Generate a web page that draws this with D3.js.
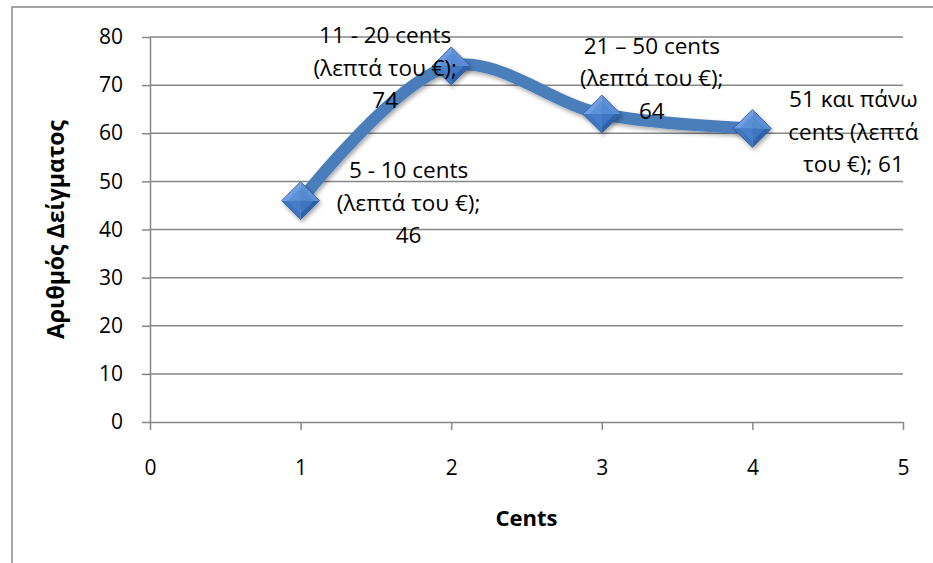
<!DOCTYPE html>
<html>
<head>
<meta charset="utf-8">
<script src="https://cdn.jsdelivr.net/npm/d3@7/dist/d3.min.js"></script>
<style>
  html, body { margin: 0; padding: 0; background: #fff; }
  svg { display: block; font-family: "Open Sans", sans-serif; }
</style>
</head>
<body>
<svg id="chart" width="933" height="563"></svg>
<script>
// Sample size per coin range
const xValues = [1, 2, 3, 4];
const yValues = [46, 74, 64, 61];
const categoryLines = [
  ["5 - 10 cents", "(λεπτά του €);"],
  ["11 - 20 cents", "(λεπτά του €);"],
  ["21 – 50 cents", "(λεπτά του €);"],
  ["51 και πάνω", "cents (λεπτά", "του €);"]
];
const xTicks = [0, 1, 2, 3, 4, 5];
const yTicks = [0, 10, 20, 30, 40, 50, 60, 70, 80];
const xTitle = "Cents";
const yTitle = "Αριθμός Δείγματος";

// label placement relative to each marker (centre x, centre y of block)
const labelOffsets = [[108, 2], [-66, 2], [50, -36], [101, 3]];
// whether the value sits on the last text line or on its own line
const valueInline = [false, false, false, true];

const svg = d3.select("#chart");
const W = 933, H = 563;
const plot = { left: 150, right: 903, top: 37, bottom: 422 };

const x = d3.scaleLinear().domain([0, 5]).range([plot.left, plot.right]);
const y = d3.scaleLinear().domain([0, 80]).range([plot.bottom, plot.top]);

// outer frame
svg.append("rect")
  .attr("x", 12).attr("y", 7).attr("width", W + 10).attr("height", H + 10)
  .attr("fill", "#fff").attr("stroke", "#888").attr("stroke-width", 1.5);

const defs = svg.append("defs");
const sh = defs.append("filter").attr("id", "shadow")
  .attr("x", "-20%").attr("y", "-20%").attr("width", "140%").attr("height", "140%");
sh.append("feDropShadow").attr("dx", 1.5).attr("dy", 2.5).attr("stdDeviation", 2)
  .attr("flood-color", "#000").attr("flood-opacity", 0.35);

// horizontal gridlines
svg.append("g")
  .selectAll("line")
  .data(yTicks.filter(d => d > 0))
  .join("line")
  .attr("x1", plot.left).attr("x2", plot.right)
  .attr("y1", d => y(d)).attr("y2", d => y(d))
  .attr("stroke", "#878787").attr("stroke-width", 1.5);

// y axis
const yAxis = svg.append("g")
  .attr("transform", `translate(${plot.left},0)`)
  .call(d3.axisLeft(y).tickValues(yTicks).tickFormat(d3.format("d"))
    .tickSize(8).tickPadding(19).tickSizeOuter(0));
// x axis
const xAxis = svg.append("g")
  .attr("transform", `translate(0,${plot.bottom})`)
  .call(d3.axisBottom(x).tickValues(xTicks).tickFormat(d3.format("d"))
    .tickSize(8).tickPadding(30).tickSizeOuter(0));

[yAxis, xAxis].forEach(g => {
  g.select(".domain").attr("stroke", "#878787").attr("stroke-width", 1.5);
  g.selectAll(".tick line").attr("stroke", "#878787").attr("stroke-width", 1.5);
  g.selectAll(".tick text")
    .attr("fill", "#000").style("font-size", "21px").style("font-family", "'Open Sans', sans-serif");
});

// axis titles
svg.append("text")
  .attr("x", (plot.left + plot.right) / 2).attr("y", 526)
  .attr("text-anchor", "middle")
  .style("font-size", "22px").style("font-weight", "bold")
  .text(xTitle);
svg.append("text")
  .attr("transform", `translate(64,${(plot.top + plot.bottom) / 2}) rotate(-90)`)
  .attr("text-anchor", "middle")
  .style("font-size", "23px").style("font-weight", "bold")
  .text(yTitle);

const pts = xValues.map((v, i) => [v, yValues[i]]);

// smoothed series line
const line = d3.line()
  .x(d => x(d[0])).y(d => y(d[1]))
  .curve(d3.curveCatmullRom.alpha(0.5));
svg.append("path")
  .datum(pts)
  .attr("d", line)
  .attr("fill", "none")
  .attr("stroke", "#4a7ebb")
  .attr("stroke-width", 12)
  .attr("stroke-linecap", "round")
  .attr("filter", "url(#shadow)");

// bevelled diamond markers
const r = 19;
const markers = svg.append("g").selectAll("g")
  .data(pts).join("g")
  .attr("transform", d => `translate(${x(d[0])},${y(d[1])})`)
  .attr("filter", "url(#shadow)");
const facets = [
  { p: [[0, -r], [-r, 0], [0, 0]], c: "#6f9ee0" },
  { p: [[0, -r], [r, 0], [0, 0]], c: "#5b8fd6" },
  { p: [[-r, 0], [0, r], [0, 0]], c: "#3f74c0" },
  { p: [[r, 0], [0, r], [0, 0]], c: "#2f62ab" }
];
facets.forEach(f => {
  markers.append("path")
    .attr("d", "M" + f.p.map(q => q.join(",")).join("L") + "Z")
    .attr("fill", f.c);
});
markers.append("path")
  .attr("d", `M0,${-r + 6}L${r - 6},0L0,${r - 6}L${-r + 6},0Z`)
  .attr("fill", "#4f86d0").attr("opacity", 0.55);
markers.append("path")
  .attr("d", `M0,${-r}L${r},0L0,${r}L${-r},0Z`)
  .attr("fill", "none").attr("stroke", "#2e5d9f").attr("stroke-width", 0.8);

// data labels
const lh = 32.5;
pts.forEach((d, i) => {
  const lines = categoryLines[i].slice();
  if (valueInline[i]) lines[lines.length - 1] += " " + yValues[i];
  else lines.push(String(yValues[i]));
  const cx = x(d[0]) + labelOffsets[i][0];
  const cy = y(d[1]) + labelOffsets[i][1];
  const t = svg.append("text")
    .attr("text-anchor", "middle")
    .style("font-size", "22.5px")
    .attr("fill", "#000");
  lines.forEach((s, k) => {
    t.append("tspan")
      .attr("x", cx)
      .attr("y", cy + (k - (lines.length - 1) / 2) * lh)
      .attr("dy", "0.36em")
      .text(s);
  });
});
</script>
</body>
</html>
